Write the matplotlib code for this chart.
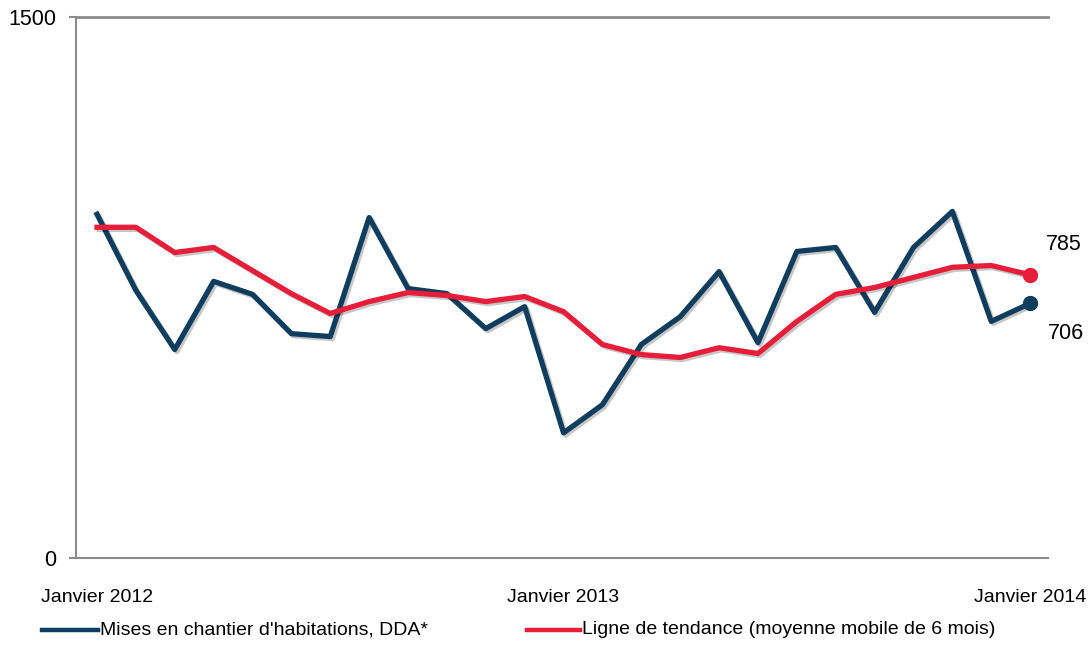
import matplotlib
matplotlib.use("Agg")
import matplotlib.pyplot as plt
import matplotlib.patheffects as pe
from matplotlib.lines import Line2D
from matplotlib import font_manager as fm

# ---- data ----
months = list(range(25))  # Jan 2012 .. Jan 2014
tick_positions = [0, 12, 24]
tick_labels = ["Janvier 2012", "Janvier 2013", "Janvier 2014"]
mises_en_chantier = [953, 742, 578, 767, 731, 622, 614, 944, 747, 733, 636, 697,
                     347, 425, 592, 669, 794, 597, 850, 861, 681, 861, 961, 656, 706]
tendance = [917, 917, 847, 861, 797, 733, 678, 711, 736, 728, 711, 725,
            683, 592, 564, 556, 583, 567, 656, 731, 750, 778, 806, 811, 785]
series_labels = ["Mises en chantier d'habitations, DDA*",
                 "Ligne de tendance (moyenne mobile de 6 mois)"]

BLUE = "#0f3d5e"
RED = "#e61e3a"
GREY = "#8c8c8c"

family = "Liberation Sans"
try:
    fm.findfont(fm.FontProperties(family="Liberation Sans Narrow"), fallback_to_default=False)
    narrow = "Liberation Sans Narrow"
except Exception:
    narrow = None
plt.rcParams["font.family"] = [family, "DejaVu Sans"]

fig = plt.figure(figsize=(10.92, 6.48), dpi=100)
ax = fig.add_axes([76 / 1092, 1 - 558 / 648, (1048 - 76) / 1092, (558 - 17) / 648])

shadow = [pe.SimpleLineShadow(offset=(1.5, -1.5), shadow_color="black", alpha=0.22),
          pe.Normal()]

ax.plot(months, mises_en_chantier, color=BLUE, lw=3.8, solid_joinstyle="round",
        path_effects=shadow, zorder=3)
ax.plot(months, tendance, color=RED, lw=3.8, solid_joinstyle="round",
        path_effects=shadow, zorder=4)
ax.plot([months[-1]], [mises_en_chantier[-1]], "o", color=BLUE, ms=10, zorder=5)
ax.plot([months[-1]], [tendance[-1]], "o", color=RED, ms=10, zorder=5)

ax.annotate(str(tendance[-1]), (months[-1], tendance[-1]), xytext=(24, 22),
            textcoords="offset points", ha="center", va="center", fontsize=15.5)
ax.annotate(str(mises_en_chantier[-1]), (months[-1], mises_en_chantier[-1]), xytext=(26, -22),
            textcoords="offset points", ha="center", va="center", fontsize=15.5)

ax.set_xlim(-0.54, 24.46)
ax.set_ylim(0, 1500)
ax.set_yticks([0, 1500])
ax.set_yticklabels(["0", "1500"], fontsize=15.5)
ax.set_xticks(tick_positions)
ax.set_xticklabels(tick_labels, fontsize=14 if narrow is None else 15.5,
                   family=[narrow] if narrow else [family, "DejaVu Sans"])
ax.tick_params(axis="x", length=0, pad=22)
ax.tick_params(axis="y", length=5, width=1.5, color=GREY, pad=9)
ax.axhline(1500, color=GREY, lw=2, clip_on=False, zorder=1)
for s in ["top", "right"]:
    ax.spines[s].set_visible(False)
for s in ["left", "bottom"]:
    ax.spines[s].set_color(GREY)
    ax.spines[s].set_linewidth(1.5)

# legend
legfont = dict(fontsize=14 if narrow is None else 15.5,
               family=[narrow] if narrow else [family, "DejaVu Sans"], va="center")
y_leg = 1 - 630 / 648
fig.add_artist(Line2D([42 / 1092, 98 / 1092], [y_leg, y_leg], color=BLUE, lw=3.2))
fig.text(100 / 1092, y_leg, series_labels[0], **legfont)
fig.add_artist(Line2D([527 / 1092, 580 / 1092], [y_leg, y_leg], color=RED, lw=3.2))
fig.text(582 / 1092, y_leg, series_labels[1], **legfont)

fig.savefig("out.png", dpi=100)
